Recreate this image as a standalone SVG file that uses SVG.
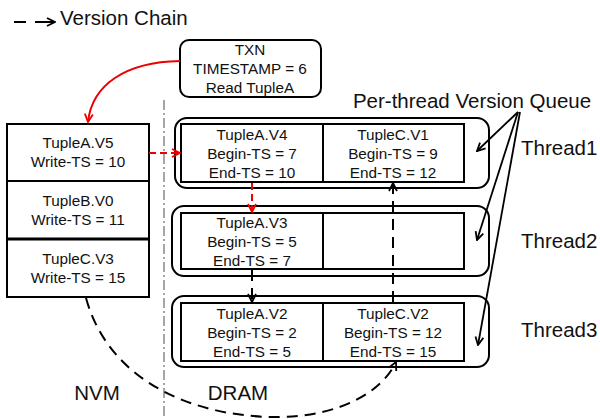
<svg xmlns="http://www.w3.org/2000/svg" width="600" height="419" viewBox="0 0 600 419">
  <defs>
    <style>
      text { font-family: "Liberation Sans", Arial, sans-serif; fill: #111; text-anchor: middle; }
      .cell { font-size: 15.3px; }
      .big { font-size: 20.5px; }
      .box { fill: #fff; stroke: #000; stroke-width: 2; }
      .outer { fill: none; stroke: #000; stroke-width: 2; }
      .dash { fill: none; stroke: #000; stroke-width: 2; stroke-dasharray: 11 7; }
      .rdash { fill: none; stroke: #e00; stroke-width: 2; stroke-dasharray: 7 4; }
      .plain { fill: none; stroke: #000; stroke-width: 1.8; }
    </style>
    <marker id="ah" viewBox="0 0 10 10" refX="9" refY="5" markerWidth="10" markerHeight="10" markerUnits="userSpaceOnUse" orient="auto">
      <path d="M1,1 L9,5 L1,9" fill="none" stroke="#000" stroke-width="1.8"/>
    </marker>
    <marker id="ahr" viewBox="0 0 10 10" refX="9" refY="5" markerWidth="10" markerHeight="10" markerUnits="userSpaceOnUse" orient="auto">
      <path d="M1,1 L9,5 L1,9" fill="none" stroke="#e00" stroke-width="1.8"/>
    </marker>
  </defs>

  <!-- legend -->
  <g id="legend">
    <line x1="14" y1="22" x2="26" y2="22" stroke="#000" stroke-width="2"/>
    <line x1="35" y1="22" x2="55" y2="22" stroke="#000" stroke-width="2" marker-end="url(#ah)"/>
    <text x="60" y="25" class="big" style="text-anchor:start">Version Chain</text>
  </g>

  <!-- NVM / DRAM boundary -->
  <line x1="164" y1="100" x2="164" y2="419" stroke="#888" stroke-width="1.5" stroke-dasharray="10 3 2 3"/>
  <text x="97" y="400" class="big">NVM</text>
  <text x="238" y="400" class="big">DRAM</text>

  <!-- transaction -->
  <g id="txn">
    <rect x="180" y="40" width="141" height="57" rx="9" class="box"/>
    <text x="250" y="55" class="cell">TXN</text>
    <text x="250" y="74" class="cell">TIMESTAMP = 6</text>
    <text x="250" y="93" class="cell">Read TupleA</text>
  </g>

  <!-- NVM tuples -->
  <g id="nvm-a">
    <rect x="7" y="124" width="142" height="57" class="box"/>
    <text x="78" y="148" class="cell">TupleA.V5</text>
    <text x="78" y="167" class="cell">Write-TS = 10</text>
  </g>
  <g id="nvm-b">
    <rect x="7" y="181" width="142" height="58" class="box"/>
    <text x="78" y="206" class="cell">TupleB.V0</text>
    <text x="78" y="225" class="cell">Write-TS = 11</text>
  </g>
  <g id="nvm-c">
    <rect x="7" y="239" width="142" height="58" class="box"/>
    <text x="78" y="264" class="cell">TupleC.V3</text>
    <text x="78" y="283" class="cell">Write-TS = 15</text>
  </g>
  <line x1="7" y1="239" x2="149" y2="239" stroke="#000" stroke-width="3"/>

  <!-- thread 1 queue -->
  <g id="thread1">
    <rect x="175" y="118" width="314" height="70" rx="12" class="outer"/>
    <rect x="181" y="124" width="142" height="58" class="box"/>
    <rect x="323" y="124" width="141" height="58" class="box"/>
    <text x="252" y="140" class="cell">TupleA.V4</text>
    <text x="252" y="159" class="cell">Begin-TS = 7</text>
    <text x="252" y="178" class="cell">End-TS = 10</text>
    <text x="393" y="140" class="cell">TupleC.V1</text>
    <text x="393" y="159" class="cell">Begin-TS = 9</text>
    <text x="393" y="178" class="cell">End-TS = 12</text>
    <text x="521" y="155" class="big" style="text-anchor:start">Thread1</text>
  </g>

  <!-- thread 2 queue -->
  <g id="thread2">
    <rect x="172" y="206" width="317" height="70" rx="12" class="outer"/>
    <rect x="181" y="213" width="142" height="56" class="box"/>
    <rect x="323" y="213" width="141" height="56" class="box"/>
    <text x="252" y="228" class="cell">TupleA.V3</text>
    <text x="252" y="247" class="cell">Begin-TS = 5</text>
    <text x="252" y="266" class="cell">End-TS = 7</text>
    <text x="521" y="248" class="big" style="text-anchor:start">Thread2</text>
  </g>

  <!-- thread 3 queue -->
  <g id="thread3">
    <rect x="172" y="296" width="317" height="71" rx="12" class="outer"/>
    <rect x="181" y="303" width="142" height="58" class="box"/>
    <rect x="323" y="303" width="141" height="58" class="box"/>
    <text x="252" y="319" class="cell">TupleA.V2</text>
    <text x="252" y="338" class="cell">Begin-TS = 2</text>
    <text x="252" y="357" class="cell">End-TS = 5</text>
    <text x="393" y="319" class="cell">TupleC.V2</text>
    <text x="393" y="338" class="cell">Begin-TS = 12</text>
    <text x="393" y="357" class="cell">End-TS = 15</text>
    <text x="521" y="337" class="big" style="text-anchor:start">Thread3</text>
  </g>

  <g id="queue-label">
    <text x="472" y="108" class="big">Per-thread Version Queue</text>
  </g>

  <!-- connectors -->
  <g id="connectors">
    <path d="M180,61 C125,62 92,85 88,122" fill="none" stroke="#e00" stroke-width="2" marker-end="url(#ahr)"/>
    <line x1="149" y1="153" x2="180" y2="153" class="rdash" marker-end="url(#ahr)"/>
    <line x1="252" y1="183" x2="252" y2="212" class="rdash" marker-end="url(#ahr)"/>
    <line x1="252" y1="270" x2="252" y2="302" class="dash" marker-end="url(#ah)"/>
    <line x1="393" y1="302" x2="393" y2="183" class="dash" marker-end="url(#ah)"/>
    <path d="M86,298 C110,385 200,418 280,417 C340,416 382,392 396,362" class="dash" marker-end="url(#ah)"/>
    <line x1="518" y1="112" x2="477" y2="151" class="plain" marker-end="url(#ah)"/>
    <line x1="518" y1="112" x2="477" y2="240" class="plain" marker-end="url(#ah)"/>
    <line x1="520" y1="112" x2="478" y2="345" class="plain" marker-end="url(#ah)"/>
  </g>
</svg>
